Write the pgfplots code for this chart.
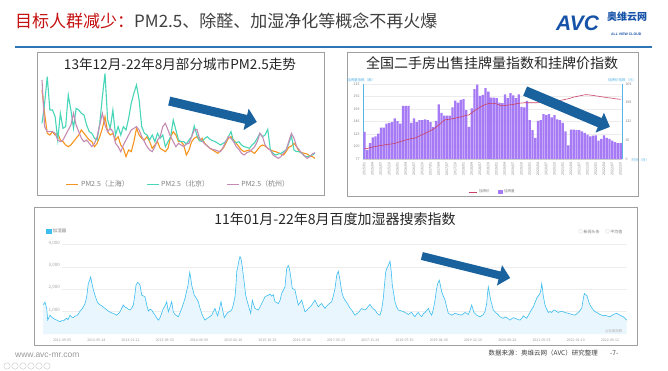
\documentclass[border=0pt]{standalone}
\usepackage{pgfplots}
\pgfplotsset{compat=1.18}
\usepackage{pgfplotstable}
\usepackage{fontspec}
\setmainfont{Noto Sans CJK SC}
\newfontfamily\latinfont{Liberation Sans}
\definecolor{titlered}{RGB}{196,16,16}
\definecolor{titlegray}{RGB}{64,64,64}
\definecolor{rulec}{RGB}{46,117,182}
\definecolor{logoblue}{RGB}{22,82,168}
\definecolor{arrowblue}{RGB}{25,98,158}
\definecolor{shc}{RGB}{247,148,30}
\definecolor{bjc}{RGB}{72,214,184}
\definecolor{hzc}{RGB}{196,140,180}
\definecolor{barc}{RGB}{166,122,245}
\definecolor{pricec}{RGB}{200,64,100}
\definecolor{axblue}{RGB}{90,180,230}
\definecolor{bdline}{RGB}{60,190,240}
\definecolor{bdfill}{RGB}{234,246,253}
\definecolor{boxc}{RGB}{160,160,160}
\definecolor{tgray}{RGB}{38,38,38}
\newcommand{\fs}[1]{\fontsize{#1}{#1}\selectfont}

\pgfplotstableread{
i sh bj hz
0 240 140 270
1 170 200 130
2 110 280 115
3 105 180 115
4 115 180 115
5 105 160 110
6 110 90 90
7 90 170 85
8 85 125 90
9 75 130 105
10 70 225 120
11 75 180 135
12 85 125 170
13 95 185 135
14 105 180 115
15 120 170 95
16 110 165 85
17 100 135 90
18 90 115 80
19 85 110 70
20 70 95 80
21 80 90 100
22 100 140 135
23 125 220 170
24 160 290 135
25 115 150 115
26 105 125 125
27 110 180 115
28 90 105 80
29 100 130 70
30 75 105 55
31 65 130 75
32 40 120 90
33 60 155 105
34 55 200 120
35 85 230 125
36 125 255 130
37 105 210 120
38 95 130 100
39 90 110 85
40 100 105 70
41 85 90 60
42 65 105 55
43 75 85 70
44 85 110 90
45 65 95 100
46 60 105 130
47 55 70 140
48 65 85 120
49 100 100 100
50 115 150 85
51 105 120 70
52 85 90 80
53 85 85 75
54 75 85 70
55 45 78 78
56 60 90 80
57 85 100 100
58 95 132 120
59 100 105 122
60 88 88 95
61 95 85 88
62 80 95 78
63 72 100 72
64 65 92 65
65 60 88 62
66 55 85 60
67 50 80 57
68 58 75 55
69 65 80 68
70 80 85 85
71 95 100 100
72 100 115 95
73 90 85 85
74 80 82 70
75 70 85 62
76 60 75 50
77 55 70 45
78 58 68 52
79 60 65 55
80 55 75 62
81 50 82 70
82 60 95 85
83 70 110 110
84 75 100 100
85 72 105 75
86 65 122 65
87 60 60 60
88 57 50 45
89 55 45 40
90 52 48 35
91 48 50 40
92 45 55 50
93 55 60 60
94 68 80 85
95 72 102 110
96 80 60 95
97 70 55 70
98 55 55 60
99 52 50 50
100 50 42 42
101 48 40 35
102 42 42 40
103 40 45 48
104 35 50 52
}\pmdata

\pgfplotstableread{
j q
1 126.7
2 93.8
3 106
4 117
5 118.6
6 123.6
7 134.8
8 134.8
9 142
10 143.5
11 145
12 151.6
13 146.6
14 142
15 174.6
16 174.6
17 174.6
18 143.5
19 151.6
20 145
21 148.5
22 148.5
23 150
24 148.5
25 145
26 136
27 147
28 177.7
29 162
30 157
31 157
32 157
33 172
34 184.5
35 180.8
36 185.8
37 187
38 167
39 136
40 170
41 205.7
42 213.8
43 193
44 195
45 207.5
46 201
47 190
48 190
49 188.8
50 180.8
51 179.6
52 196
53 188.8
54 198
55 194
56 188.8
57 196
58 173
59 172
60 184
61 148.5
62 130
63 116
64 147
65 148.5
66 159.7
67 157.8
68 159.7
69 153.5
70 157.8
71 149.7
72 148.5
73 143.5
74 128
75 101.9
76 131
77 131
78 130
79 130
80 128
81 125
82 122
83 118.6
84 120
85 120.5
86 111
87 114
88 120.5
89 116
90 114
91 111
92 108
93 106
94 106
}\bardata

\pgfplotstableread{
j p
1 36
2 37
3 40
4 42
5 44
6 46
7 48
8 49
9 51
10 52
11 53
12 55
13 58
14 61
15 64
16 67
17 69
18 72
19 73
20 76
21 81
22 86
23 90
24 95
25 100
26 105
27 112
28 120
29 128
30 137
31 139
32 140
33 142
34 144
35 146
36 148
37 151
38 154
39 155
40 163
41 170
42 177
43 182
44 188
45 192
46 195
47 196
48 196
49 194
50 190
51 187
52 188
53 190
54 191
55 192
56 194
57 196
58 197
59 198
60 198
61 198
62 198
63 198
64 198
65 199
66 199
67 200
68 201
69 202
70 203
71 204
72 206
73 208
74 210
75 212
76 215
77 218
78 220
79 222
80 224
81 226
82 226
83 225
84 224
85 222
86 221
87 219
88 218
89 216
90 215
91 214
92 212
93 211
94 210
}\pricedata

\pgfplotstableread{
x v
0 1300
2 1420
3.7 1140
4.7 620
7 840
8.5 760
10.3 700
12 650
13.7 620
15.5 580
17 550
18.7 600
20.3 580
22 650
23.7 700
25 640
27 840
28.5 760
30.3 730
32 800
33.7 810
35.5 900
37 1020
38.7 1100
40.3 1210
42 1350
43.7 1660
45.3 2250
46.5 2380
47.7 2550
48.5 2350
49.3 2180
50.5 1950
52 1730
53.7 1500
55.3 1360
57 1300
58.7 1260
60.3 1200
62 1140
63.7 1080
65.3 1020
67 980
68.7 940
70.3 920
72 880
73.7 840
75.3 900
77 990
78.7 1150
80.3 1290
82 1200
83.7 1170
85.3 1100
87 1070
88.7 1150
90.3 1290
91.7 1700
93 2180
94.7 2300
96 2250
97 2180
98.7 1730
100.3 1700
102 1660
103.7 1300
105.3 1020
107 1100
108.7 1070
110.3 950
112 840
113.7 720
115.3 620
116.7 700
118 840
119.2 1000
120.3 1140
122 1250
123.7 1440
125.3 990
127 1200
128.7 1440
130.3 990
132 870
133.7 820
135.3 770
137 950
138.7 1140
140.3 1350
142 1590
143.3 1850
144.7 2100
145.7 2400
146.7 2750
147.7 2500
148.7 2180
150 1950
151.3 1730
153.3 1600
155.3 1440
157 1150
158.7 920
160.3 750
162 620
163.7 680
165.3 730
167 780
168.7 840
170.3 1000
172 1140
173.3 950
174.7 810
176.3 1100
178 1440
179.7 1050
181.3 730
183 850
184.7 960
186.7 1000
188.7 1070
190.3 1300
192 1660
193 2200
193.7 2770
195 3050
196 3290
197 3450
198 3360
199.3 3000
200.3 2620
201.5 2200
202.7 1730
204 1500
205.3 1290
206.5 1100
207.7 920
209.3 1510
210.7 1300
212 1140
213.7 1100
215.3 1070
217 1200
218.7 1360
220.3 1500
222 1660
223.7 1700
225.3 1730
227 1780
228.7 1690
230.3 1750
232 1440
233.7 1400
235.3 1360
237 1500
238.7 1810
240.3 1950
242 2100
243 2600
243.7 2920
245.3 3050
246.2 2950
247 2770
248.2 2400
249.3 2030
250.7 2000
252 1960
253.7 1600
255.3 1290
257 1400
258.7 1510
260.3 1250
262 990
263.7 1050
265.3 1140
267 1200
268.7 1290
270.3 1400
272 1510
273.7 1350
275.3 1210
277 1300
278.7 1360
280.3 1250
282 1140
283.7 1250
285.3 1320
287 1380
288.7 1440
290.3 1700
292 2030
293.7 2620
295.3 2800
297 2400
298.7 1880
300.3 1650
302 1510
303.7 1400
305.3 1290
307 1150
308.7 1070
310.3 950
312 840
313.7 900
315.3 960
317 1050
318.7 1140
320.3 1100
322 1070
324 1150
325.5 1250
327 1320
328.7 1200
330.3 1120
332 1070
333.7 950
335.3 880
337 840
338.7 1100
340.3 1590
341.5 2200
342.7 2770
343.7 2900
344.7 3000
345.7 3100
347 3250
348.2 2800
349.3 2180
350.7 1800
352 1440
353.7 1200
355.3 1070
357 1050
358.7 1020
360.3 1000
362 960
363.7 920
365.3 870
367 930
368.7 960
370.3 850
372 770
373.7 900
375.3 960
377 850
378.7 770
380.3 900
382 960
383.7 1050
385.3 1140
387 950
388.7 840
390.3 1100
392 1510
393.5 2000
394.7 2250
396.3 2400
397.5 2150
398.7 1880
400.3 1700
402 1510
403.7 1200
405.3 920
407 880
408.7 840
410.3 880
412 920
413.7 900
415.3 870
417 860
418.7 840
420.3 900
422 960
423.7 920
425.3 870
427 1050
428.7 1290
430 1100
431 960
432.3 900
433.7 840
435.3 800
437 770
438.7 820
440.3 870
442 1000
443.7 1360
444.5 1800
445.3 2100
446.5 1800
447.7 1510
449 1300
450.3 1070
452 990
453.7 920
455.3 850
457 770
458.7 730
460.3 700
462 760
463.7 730
465.3 680
467 620
468.7 680
470.3 730
472 700
473.7 670
475.3 640
477 620
478.7 700
480.3 810
482 750
483.7 700
485.3 830
487 960
488.7 1100
490.3 1210
492 1400
493.7 1590
495.3 1700
497 1810
498 2000
498.7 2250
499.5 2000
500.3 1700
502 1290
503.7 1100
505.3 960
507 1000
508.7 960
510.3 1050
512 1070
513.7 1000
515.3 960
517 1000
518.7 1020
520.3 990
522 960
523.7 940
525.3 920
527 900
528.7 870
530.3 860
532 840
533.7 900
535.3 960
537 1050
538.7 1140
540 1500
541.3 1810
542.5 1750
543.7 1730
545 1550
546.3 1360
548.3 1200
550.3 1070
552 1000
553.7 960
555.3 920
557 870
558.7 840
560.3 810
562 830
563.7 810
565.3 790
567 770
568.7 820
570.3 870
572 900
573.7 920
575.3 880
577 840
578.7 800
580.3 770
582 700
583.7 620
}\humdata

\begin{document}
\begin{tikzpicture}
\useasboundingbox (0pt,0pt) rectangle (668pt,-371pt);
\fill[white] (0pt,0pt) rectangle (668pt,-371pt);

% heading
\node[anchor=west,inner sep=0pt] at (15pt,-21pt) {\fs{17}\textcolor{titlered}{目标人群减少：}\textcolor{titlegray}{PM2.5、除醛、加湿净化等概念不再火爆}};
\draw[rulec,line width=1.8pt] (15pt,-47pt) -- (652pt,-47pt);
\node[anchor=west,inner sep=0pt,text=logoblue] at (556pt,-23pt) {\latinfont\bfseries\itshape\fs{21}AVC};
\node[anchor=west,inner sep=0pt,text=logoblue] at (607pt,-16.5pt) {\bfseries\fs{10}奥维云网};
\node[anchor=west,inner sep=0pt,text=logoblue] at (611pt,-34.5pt) {\latinfont\bfseries\fs{3.5}ALL VIEW CLOUD};

% panel frames
\draw[boxc,line width=0.7pt] (37pt,-52pt) rectangle (324pt,-195pt);
\draw[boxc,line width=0.7pt] (347pt,-52pt) rectangle (638pt,-196pt);
\draw[boxc,line width=0.7pt] (34pt,-207pt) rectangle (637pt,-345pt);

% panel titles
\node[text=tgray] at (180pt,-64pt) {\fs{13.6}13年12月-22年8月部分城市PM2.5走势};
\node[text=tgray] at (492pt,-63pt) {\fs{14}全国二手房出售挂牌量指数和挂牌价指数};
\node[text=tgray] at (335pt,-219pt) {\fs{14}11年01月-22年8月百度加湿器搜索指数};

% ---------- panel 1 ----------
\begin{axis}[at={(42pt,-170pt)}, anchor=south west, scale only axis,
  width=273pt, height=100pt, xmin=0, xmax=104, ymin=0, ymax=300,
  axis lines=none, clip=false,
  legend style={at={(0.5,-0.085)}, anchor=north, draw=none, fill=none,
    legend columns=3, font=\fs{7}, text=gray, inner sep=0pt,
    /tikz/every even column/.append style={column sep=15pt}},
  legend image code/.code={\draw[#1,line width=1.3pt] (0pt,0pt) -- (12pt,0pt);}]
\addplot[shc, line width=1.1pt] table[x=i,y=sh]{\pmdata};
\addlegendentry{PM2.5（上海）}
\addplot[bjc, line width=1.1pt] table[x=i,y=bj]{\pmdata};
\addlegendentry{PM2.5（北京）}
\addplot[hzc, line width=1.1pt] table[x=i,y=hz]{\pmdata};
\addlegendentry{PM2.5（杭州）}
\end{axis}

% ---------- panel 2 ----------
\begin{axis}[at={(363pt,-159pt)}, anchor=south west, scale only axis,
  width=259pt, height=75pt, xmin=0.5, xmax=94.5, ymin=77, ymax=215,
  axis y line*=left, axis x line*=bottom,
  y axis line style={axblue, line width=0.6pt},
  x axis line style={gray!40},
  ytick={77,100,123,146,169,192,215}, ymajorgrids,
  grid style={gray!15, line width=0.3pt},
  major tick length=0pt,
  yticklabel style={font=\fs{3.5}, text=gray},
  /pgf/number format/assume math mode=true,
  xtick={1,4,...,94},
  xticklabels={2015/01,2015/04,2015/07,2015/10,2016/01,2016/04,2016/07,2016/10,2017/01,2017/04,2017/07,2017/10,2018/01,2018/04,2018/07,2018/10,2019/01,2019/04,2019/07,2019/10,2020/01,2020/04,2020/07,2020/10,2021/01,2021/04,2021/07,2021/10,2022/01,2022/04,2022/07,2022/10},
  xticklabel style={rotate=90, anchor=east, font=\fs{3.5}, text=gray},
  ybar, bar width=0.82]
\addplot[fill=barc, draw=none] table[x=j,y=q]{\bardata};
\end{axis}
\begin{axis}[at={(363pt,-159pt)}, anchor=south west, scale only axis,
  width=259pt, height=75pt, xmin=0.5, xmax=94.5, ymin=0, ymax=264,
  axis y line*=right, axis x line=none,
  y axis line style={axblue, line width=0.6pt},
  ytick={0,66,132,198,264}, major tick length=0pt,
  yticklabel style={font=\fs{3.5}, text=gray},
  /pgf/number format/assume math mode=true,
  legend style={at={(0.5,-0.44)}, anchor=center, draw=none, fill=none,
    legend columns=2, font=\fs{3.5}, text=gray, inner sep=0pt,
    /tikz/every even column/.append style={column sep=6pt}}]
\addplot[pricec, line width=0.6pt, legend image code/.code={\draw[pricec,line width=0.6pt] (0pt,0pt) -- (8pt,0pt);}] table[x=j,y=p]{\pricedata};
\addlegendentry{挂牌价}
\addlegendimage{legend image code/.code={\fill[barc] (0pt,-1.5pt) rectangle (4pt,1.5pt);}}
\addlegendentry{挂牌量}
\end{axis}
\node[text=axblue] at (361pt,-80pt) {\fs{3.5}挂牌量指数（套）};
\node[text=axblue] at (622pt,-80pt) {\fs{3.5}挂牌价指数（元）};
\node[text=axblue, anchor=west] at (628pt,-160pt) {\fs{3.5}时间（月）};

% ---------- panel 3 ----------
\begin{axis}[at={(43pt,-334pt)}, anchor=south west, scale only axis,
  width=584pt, height=89.7pt, xmin=0, xmax=584, ymin=0, ymax=4000,
  axis line style={draw=none}, major tick length=0pt, clip=false,
  ytick={1000,2000,3000,4000}, scaled y ticks=false,
  yticklabel style={anchor=west, xshift=2pt, yshift=1.5pt, font=\fs{4.5}, text=gray!70},
  /pgf/number format/.cd, 1000 sep={,}, assume math mode=true, /pgfplots/.cd,
  xtick={19,53.25,87.5,121.75,156,190.25,224.5,258.75,293,327.25,361.5,395.75,430,464.25,498.5,532.75,567},
  xticklabels={2011-09-05,2012-05-14,2013-01-21,2013-09-30,2014-06-09,2015-02-16,2015-10-26,2016-07-04,2017-03-13,2017-11-20,2018-07-30,2019-04-08,2019-12-16,2020-08-24,2021-05-03,2022-01-10,2022-09-12},
  xticklabel style={font=\fs{3.5}, text=gray!80, yshift=-1pt},
  legend style={at={(0.004,1.148)}, anchor=west, draw=none, fill=none,
    font=\fs{4.5}, text=gray, inner sep=0pt}]
\addlegendimage{legend image code/.code={\fill[bdline] (0pt,-1.7pt) rectangle (5pt,1.7pt);}}
\addlegendentry{加湿器}
\draw[gray!14, line width=0.4pt] (axis cs:19,1000) -- (axis cs:584,1000);
\draw[gray!14, line width=0.4pt] (axis cs:19,2000) -- (axis cs:584,2000);
\draw[gray!14, line width=0.4pt] (axis cs:19,3000) -- (axis cs:584,3000);
\draw[gray!14, line width=0.4pt] (axis cs:19,4000) -- (axis cs:584,4000);
\addplot[fill=bdfill, draw=none, forget plot] table[x=x,y=v]{\humdata} \closedcycle;
\addplot[bdline, line width=0.6pt, forget plot] table[x=x,y=v]{\humdata};
\end{axis}
\node[text=gray, anchor=east] at (626pt,-232pt) {\fs{4}□ 新闻头条\hspace{6pt}□ 平均值};
\node[text=gray!60, anchor=east] at (626pt,-331pt) {\fs{3.5}@百度指数};

% ---------- arrows ----------
\begin{scope}[shift={(213pt,-111.5pt)}, rotate=-13.4]
\fill[arrowblue] (-45pt,-4.5pt) -- (34pt,-4.5pt) -- (34pt,-11pt) -- (45pt,0pt) -- (34pt,11pt) -- (34pt,4.5pt) -- (-45pt,4.5pt) -- cycle;
\end{scope}
\begin{scope}[shift={(567.5pt,-109pt)}, rotate=-22.9]
\fill[arrowblue] (-46pt,-5pt) -- (35pt,-5pt) -- (35pt,-10.75pt) -- (46pt,0pt) -- (35pt,10.75pt) -- (35pt,5pt) -- (-46pt,5pt) -- cycle;
\end{scope}
\begin{scope}[shift={(466pt,-267pt)}, rotate=-14]
\fill[arrowblue] (-45.5pt,-4pt) -- (34.5pt,-4pt) -- (34.5pt,-10.5pt) -- (45.5pt,0pt) -- (34.5pt,10.5pt) -- (34.5pt,4pt) -- (-45.5pt,4pt) -- cycle;
\end{scope}

% ---------- footer ----------
\node[anchor=west, inner sep=0pt, text=gray!80] at (15pt,-355pt) {\latinfont\fs{8.5}www.avc-mr.com};
\foreach \k in {0,...,5} {\draw[gray!45, line width=0.4pt] (7pt+\k*8pt,-366pt) circle (3.2pt);}
\node[anchor=east, inner sep=0pt, text=titlegray] at (598pt,-353pt) {\fs{6.5}数据来源：奥维云网（AVC）研究整理};
\node[anchor=west, inner sep=0pt, text=titlegray] at (610pt,-353pt) {\fs{6.5}-7-};
\end{tikzpicture}
\end{document}
